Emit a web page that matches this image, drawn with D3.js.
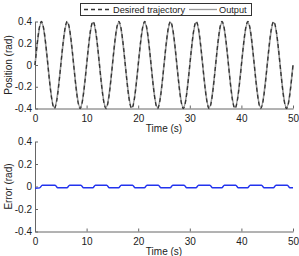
<!DOCTYPE html>
<html>
<head>
<meta charset="utf-8">
<script src="https://cdn.jsdelivr.net/npm/d3@7"></script>
<style>
  body { margin: 0; background: #fff; }
  svg text { font-family: "Liberation Sans", Arial, sans-serif; fill: #222; }
  .axis path, .axis line { stroke: #666; }
  .axis text { font-size: 10px; fill: #222; }
</style>
</head>
<body>
<div id="chart"></div>
<script>
// time samples (s) for the position plot, quarter period spacing
var posTime = [0, 1.25, 2.5, 3.75, 5, 6.25, 7.5, 8.75, 10, 11.25, 12.5, 13.75,
    15, 16.25, 17.5, 18.75, 20, 21.25, 22.5, 23.75, 25, 26.25, 27.5, 28.75,
    30, 31.25, 32.5, 33.75, 35, 36.25, 37.5, 38.75, 40, 41.25, 42.5, 43.75,
    45, 46.25, 47.5, 48.75, 50];
var desired = [0, 0.4, 0, -0.4, 0, 0.4, 0, -0.4, 0, 0.4, 0, -0.4,
    0, 0.4, 0, -0.4, 0, 0.4, 0, -0.4, 0, 0.4, 0, -0.4,
    0, 0.4, 0, -0.4, 0, 0.4, 0, -0.4, 0, 0.4, 0, -0.4,
    0, 0.4, 0, -0.4, 0];
var output = [0, 0.39, 0, -0.39, 0, 0.39, 0, -0.39, 0, 0.39, 0, -0.39,
    0, 0.39, 0, -0.39, 0, 0.39, 0, -0.39, 0, 0.39, 0, -0.39,
    0, 0.39, 0, -0.39, 0, 0.39, 0, -0.39, 0, 0.39, 0, -0.39,
    0, 0.39, 0, -0.39, 0];

// error samples
var errTime = [0, 0.9, 1.4, 3.9, 4.4, 6.2, 6.7, 8.9, 9.4, 11.2, 11.7, 13.9,
    14.4, 16.2, 16.7, 18.9, 19.4, 21.2, 21.7, 23.9, 24.4, 26.2, 26.7, 28.9,
    29.4, 31.2, 31.7, 33.9, 34.4, 36.2, 36.7, 38.9, 39.4, 41.2, 41.7, 43.9,
    44.4, 46.2, 46.7, 48.9, 49.4, 50];
var errValue = [-0.016, -0.012, 0.011, 0.011, -0.011, -0.011, 0.011, 0.011, -0.011, -0.011, 0.011, 0.011,
    -0.011, -0.011, 0.011, 0.011, -0.011, -0.011, 0.011, 0.011, -0.011, -0.011, 0.011, 0.011,
    -0.011, -0.011, 0.011, 0.011, -0.011, -0.011, 0.011, 0.011, -0.011, -0.011, 0.011, 0.011,
    -0.011, -0.011, 0.011, 0.011, -0.011, -0.011];

var xTicks = [0, 10, 20, 30, 40, 50];
var yTicks = [-0.4, -0.2, 0, 0.2, 0.4];
var yTickLabels = ["-0.4", "-0.2", "0", "0.2", "0.4"];

var W = 299, H = 256;
var svg = d3.select("#chart").append("svg")
    .attr("width", W)
    .attr("height", H);

var xScale = d3.scaleLinear().domain([0, 50]).range([35, 293]);

function drawAxes(yScale, yLabel) {
    var y0 = yScale(-0.4);
    svg.append("g")
        .attr("class", "x axis")
        .attr("transform", "translate(0," + y0 + ")")
        .call(d3.axisBottom(xScale).tickValues(xTicks).tickSize(-3).tickSizeOuter(0).tickPadding(6)
            .tickFormat(d3.format("d")));

    svg.append("g")
        .attr("class", "y axis")
        .attr("transform", "translate(" + xScale(0) + ",0)")
        .call(d3.axisLeft(yScale).tickValues(yTicks).tickSize(-3).tickSizeOuter(0).tickPadding(3)
            .tickFormat(function (d, i) { return yTickLabels[i]; }));

    svg.append("text")
        .attr("x", (xScale.range()[0] + xScale.range()[1]) / 2)
        .attr("y", y0 + 23)
        .style("text-anchor", "middle")
        .style("font-size", "10px")
        .text("Time (s)");

    svg.append("text")
        .attr("transform", "translate(12," + yScale(0) + ") rotate(-90)")
        .style("text-anchor", "middle")
        .style("font-size", "10px")
        .text(yLabel);
}

// top plot
var yTop = d3.scaleLinear().domain([-0.4, 0.4]).range([108.5, 21.5]);
drawAxes(yTop, "Position (rad)");

var posLine = d3.line()
    .x(function (d) { return xScale(d[0]); })
    .y(function (d) { return yTop(d[1]); })
    .curve(d3.curveNatural);

svg.append("path")
    .datum(posTime.map(function (t, i) { return [t, output[i]]; }))
    .attr("fill", "none")
    .attr("stroke", "#999")
    .attr("stroke-width", 1.6)
    .attr("d", posLine);

svg.append("path")
    .datum(posTime.map(function (t, i) { return [t, desired[i]]; }))
    .attr("fill", "none")
    .attr("stroke", "#333")
    .attr("stroke-width", 1.3)
    .attr("stroke-dasharray", "4,3")
    .attr("d", posLine);

// legend
var lg = svg.append("g");
lg.append("rect")
    .attr("x", 80.5).attr("y", 3.5).attr("width", 171).attr("height", 12)
    .attr("fill", "#fff").attr("stroke", "#333").attr("stroke-width", 1);
lg.append("line")
    .attr("x1", 84).attr("x2", 112).attr("y1", 9.5).attr("y2", 9.5)
    .attr("stroke", "#333").attr("stroke-width", 1.3).attr("stroke-dasharray", "4,3");
lg.append("text")
    .attr("x", 113).attr("y", 13)
    .style("font-size", "9.2px")
    .text("Desired trajectory");
lg.append("line")
    .attr("x1", 189).attr("x2", 217).attr("y1", 9.5).attr("y2", 9.5)
    .attr("stroke", "#999").attr("stroke-width", 1.3);
lg.append("text")
    .attr("x", 219).attr("y", 13)
    .style("font-size", "9.2px")
    .text("Output");

// bottom plot
var yBot = d3.scaleLinear().domain([-0.4, 0.4]).range([231.5, 141.5]);
drawAxes(yBot, "Error (rad)");

var errLine = d3.line()
    .x(function (d) { return xScale(d[0]); })
    .y(function (d) { return yBot(d[1]); })
    .curve(d3.curveMonotoneX);

svg.append("path")
    .datum(errTime.map(function (t, i) { return [t, errValue[i]]; }))
    .attr("fill", "none")
    .attr("stroke", "#2233ee")
    .attr("stroke-width", 1.4)
    .attr("d", errLine);
</script>
</body>
</html>
